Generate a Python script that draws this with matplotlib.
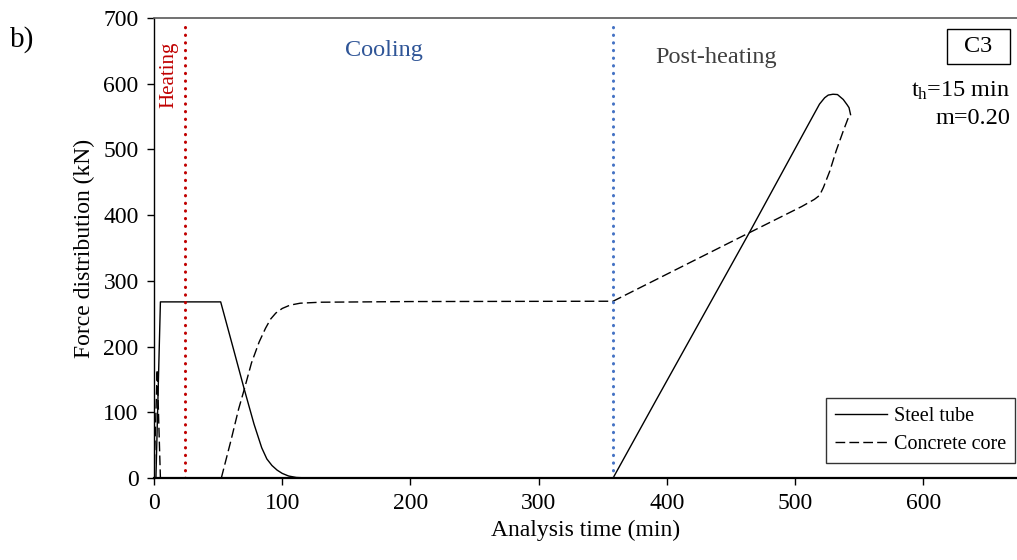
import numpy as np
import matplotlib
matplotlib.use("Agg")
import matplotlib.pyplot as plt
from matplotlib.patches import Rectangle

plt.rcParams['font.family'] = ['Liberation Serif', 'DejaVu Serif']
plt.rcParams['mathtext.fontset'] = 'custom'
plt.rcParams['mathtext.rm'] = 'Liberation Serif'
plt.rcParams['mathtext.it'] = 'Liberation Serif:italic'

# --- data: axial force shared by steel tube and concrete core ---
steel_t = [0, 1.5, 5, 52, 62, 70.4, 78, 84, 88, 92, 96, 100, 105, 111, 120, 358,
           392, 465, 510, 519, 523, 525.8, 529.5, 533, 537.5, 540.5, 542, 543.2]
steel_f = [0, 0, 268, 268, 196, 135, 82, 46, 29, 19, 12, 7, 3, 0.8, 0, 0,
           120, 376, 537, 569, 578.6, 582.7, 584, 583.5, 576, 568, 563.6, 553]

concrete_t = [0, 2.5, 5, 52.5, 60, 66, 70.4, 76, 82, 87, 91, 95, 100, 106, 114,
              130, 200, 358, 465, 505, 515, 519, 522, 527, 532, 537.5, 541.4, 543.2]
concrete_f = [0, 165, 0, 0, 57, 105, 135, 175, 207, 228, 242, 251, 258, 263, 266,
              267.5, 268.5, 269, 374, 413, 424, 430, 442, 467, 498, 528, 548, 553]

t_heating_end = 24     # end of heating phase (min)
t_cooling_end = 358    # end of cooling phase (min)

fig = plt.figure(figsize=(10.17, 5.6), dpi=100)
ax = fig.add_axes([154/1017, 82/560, 1 - 154/1017, 460/560])

ax.plot(steel_t, steel_f, color='black', lw=1.0, label='Steel tube')
ax.plot(concrete_t, concrete_f, color='black', lw=1.0, ls=(0, (7, 3)),
        label='Concrete core')

ax.axvline(t_heating_end, ymin=0, ymax=0.985, color='#C00000', lw=2.2,
           ls=(0, (0.1, 2.4)), dash_capstyle='round')
ax.axvline(t_cooling_end, ymin=0, ymax=0.985, color='#4472C4', lw=2.2,
           ls=(0, (0.1, 2.4)), dash_capstyle='round')

ax.text(11.3, 613, 'Heating', rotation=90, color='#C00000', fontsize=15,
        ha='center', va='center')
ax.text(179, 650, 'Cooling', color='#2F5597', fontsize=17.5,
        ha='center', va='center')
ax.text(438.6, 640, 'Post-heating', color='#404040', fontsize=17.5,
        ha='center', va='center')

# case label box
ax.add_patch(Rectangle((0.919, 0.900), 0.073, 0.076, transform=ax.transAxes,
                       fill=False, edgecolor='black', lw=1.0))
ax.text(0.9555, 0.938, 'C3', transform=ax.transAxes, fontsize=17.5,
        ha='center', va='center')
ax.text(0.992, 0.828, r't$_{\mathrm{h}}$=15 min', transform=ax.transAxes,
        fontsize=17.5, ha='right', va='baseline')
ax.text(0.992, 0.770, 'm=0.20', transform=ax.transAxes,
        fontsize=17.5, ha='right', va='baseline')

ax.set_xlim(0, 673)
ax.set_ylim(0, 700)
ax.set_xticks(np.arange(0, 700, 100))
ax.set_yticks(np.arange(0, 800, 100))
ax.tick_params(direction='out', length=5, width=1, labelsize=17, pad=6)

ax.spines['right'].set_visible(False)
ax.spines['top'].set_color('#595959')
ax.spines['top'].set_linewidth(1.2)
ax.spines['left'].set_linewidth(1.0)
ax.spines['bottom'].set_linewidth(1.6)

ax.set_xlabel('Analysis time (min)', fontsize=17, labelpad=4)
ax.set_ylabel('Force distribution (kN)', fontsize=17, labelpad=6)

leg = ax.legend(loc='lower right', bbox_to_anchor=(0.9977, 0.0326),
                borderaxespad=0, fontsize=14.5, frameon=True, fancybox=False,
                handlelength=2.55, handletextpad=0.35, labelspacing=0.45,
                borderpad=0.45)
leg.get_frame().set_edgecolor('black')
leg.get_frame().set_linewidth(1.0)

fig.text(10/1017, 1 - 40/560, 'b)', fontsize=21, ha='left', va='center')

fig.savefig('out.png', dpi=100)
